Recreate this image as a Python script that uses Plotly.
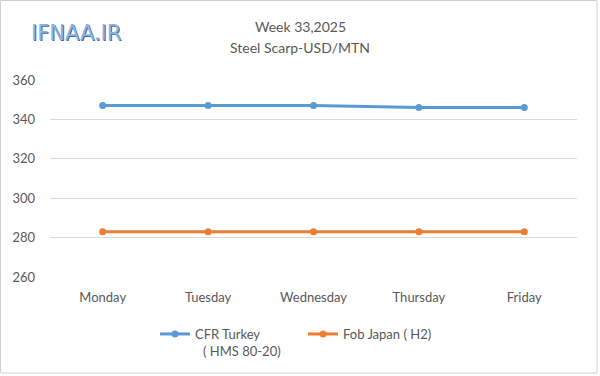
import plotly.graph_objects as go

days = ["Monday", "Tuesday", "Wednesday", "Thursday", "Friday"]
cfr_turkey = [347, 347, 347, 346, 346]
fob_japan = [283, 283, 283, 283, 283]
y_ticks = [260, 280, 300, 320, 340, 360]

W, H = 600, 376
ml, mr, mt, mb = 50, 23, 80, 99
pw = W - ml - mr
ph = H - mt - mb

def px_x(p):
    return (p - ml) / pw

def px_y(p):
    return (H - mb - p) / ph

font = "Lato, Carlito, sans-serif"
gray = "#595959"

fig = go.Figure()
fig.add_trace(go.Scatter(
    x=days, y=cfr_turkey, mode="lines+markers",
    name="CFR Turkey",
    line=dict(color="#5b9bd5", width=3),
    marker=dict(size=7, color="#5b9bd5"),
))
fig.add_trace(go.Scatter(
    x=days, y=fob_japan, mode="lines+markers",
    name="Fob Japan ( H2)",
    line=dict(color="#ed7d31", width=3),
    marker=dict(size=7, color="#ed7d31"),
))

logo_font = dict(size=21, family="Verdana, DejaVu Sans, sans-serif")

fig.update_layout(
    width=W, height=H,
    margin=dict(l=ml, r=mr, t=mt, b=mb),
    paper_bgcolor="white", plot_bgcolor="white",
    font=dict(family=font, size=13, color=gray),
    hovermode=False,
    showlegend=True,
    legend=dict(orientation="h", x=px_x(155), y=px_y(319), xanchor="left", yanchor="top",
                font=dict(size=13, color=gray), entrywidth=103, entrywidthmode="pixels",
                bgcolor="rgba(0,0,0,0)"),
    xaxis=dict(showgrid=False, showline=False, ticks="", tickfont=dict(size=13, color=gray),
               range=[-0.5, 4.5], ticklabelstandoff=11),
    yaxis=dict(range=[260, 360], tickvals=y_ticks, showgrid=True, gridcolor="#d9d9d9",
               gridwidth=1, zeroline=False, showline=False, ticks="",
               tickfont=dict(size=13, color=gray), ticklabelstandoff=14),
    annotations=[
        dict(text="Week 33,2025", x=px_x(300), y=px_y(27), xref="paper", yref="paper",
             xanchor="center", yanchor="middle", showarrow=False, font=dict(size=14, color=gray, family=font)),
        dict(text="Steel Scarp-USD/MTN", x=px_x(300), y=px_y(47), xref="paper", yref="paper",
             xanchor="center", yanchor="middle", showarrow=False, font=dict(size=14, color=gray, family=font)),
        dict(text="( HMS 80-20)", x=px_x(201), y=px_y(351), xref="paper", yref="paper",
             xanchor="left", yanchor="middle", showarrow=False, font=dict(size=13, color=gray, family=font)),
        dict(text="IFNAA.IR", x=px_x(29), y=px_y(33), xref="paper", yref="paper",
             xanchor="left", yanchor="middle", showarrow=False,
             font=dict(color="#3d6aa8", **logo_font), xshift=1, yshift=-1),
        dict(text="IFNAA.IR", x=px_x(29), y=px_y(33), xref="paper", yref="paper",
             xanchor="left", yanchor="middle", showarrow=False,
             font=dict(color="#8fb2de", **logo_font)),
    ],
    shapes=[
        dict(type="rect", xref="paper", yref="paper", x0=px_x(0.5), x1=px_x(597), y0=px_y(0.5), y1=px_y(373),
             line=dict(color="#d0d0d0", width=1), layer="below"),
    ],
)

fig.write_html("out.html", config={"displayModeBar": False, "staticPlot": True},
               post_script="document.body.style.margin='0';document.body.style.padding='0';")
